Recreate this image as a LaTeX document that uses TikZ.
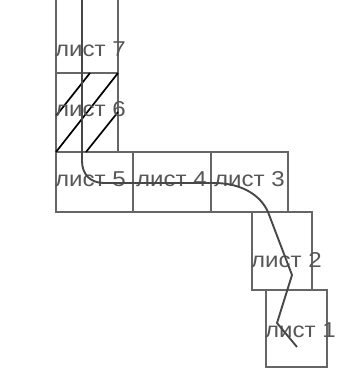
\documentclass[tikz,border=0pt]{standalone}
\usepackage{fontspec}
\setmainfont{Liberation Sans}
\begin{document}
\begin{tikzpicture}[x=1pt,y=-1pt,
  sheet/.style={draw=black!60,line width=1.1pt},
  lbl/.style={anchor=base west,inner sep=0pt,text=black!66,font=\fontsize{21.5}{24}\selectfont},
  route/.style={draw=black!72,line width=1.9pt,line join=round},
  hatch/.style={draw=black,line width=1.7pt}]
\useasboundingbox (0,0) rectangle (358,371);
\clip (0,0) rectangle (358,371);
% sheets
\draw[sheet] (56,-10) rectangle (118,73);
\draw[sheet] (56,73) rectangle (118,152);
\draw[sheet] (56,152) rectangle (133,212);
\draw[sheet] (133,152) rectangle (211,212);
\draw[sheet] (211,152) rectangle (288,212);
\draw[sheet] (252,212) rectangle (312,290);
\draw[sheet] (266,290) rectangle (327,367);
% hatching of sheet 6
\coordinate (h1a) at (56,116); \coordinate (h1b) at (90,73);
\coordinate (h2a) at (56,152); \coordinate (h2b) at (118,73);
\coordinate (h3a) at (86,152); \coordinate (h3b) at (118,112);
\draw[hatch] (h1a) -- (h1b);
\draw[hatch] (h2a) -- (h2b);
\draw[hatch] (h3a) -- (h3b);
% labels
\node[lbl] (l7) at (55,57) {\scalebox{1.12}[1]{лист 7}};
\node[lbl] (l6) at (55,117) {\scalebox{1.12}[1]{лист 6}};
\node[lbl] (l5) at (55,186) {\scalebox{1.12}[1]{лист 5}};
\node[lbl] (l4) at (136,186) {\scalebox{1.12}[1]{лист 4}};
\node[lbl] (l3) at (214,186) {\scalebox{1.12}[1]{лист 3}};
\node[lbl] (l2) at (251,267) {\scalebox{1.12}[1]{лист 2}};
\node[lbl] (l1) at (265,337) {\scalebox{1.12}[1]{лист 1}};
% route
\coordinate (r0) at (82,-5);
\coordinate (r1) at (82,161);
\coordinate (r2) at (104,183);
\coordinate (r3) at (214,183);
\coordinate (r4) at (268,212);
\coordinate (r5) at (292,275);
\coordinate (r6) at (277,323);
\coordinate (r7) at (297,347);
\draw[route] (r0) -- (r1) .. controls (82,174) and (90,183) .. (r2) -- (r3)
  .. controls (240,183) and (260,194) .. (r4) -- (r5) -- (r6) -- (r7);
\end{tikzpicture}
\end{document}
